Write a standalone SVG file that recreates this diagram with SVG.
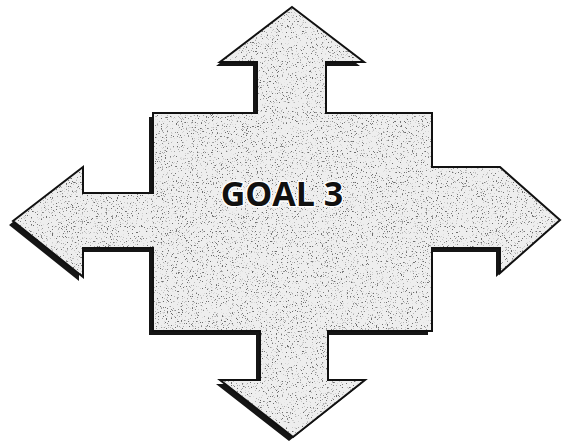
<svg xmlns="http://www.w3.org/2000/svg" width="563" height="442" viewBox="0 0 563 442">
  <style>
    .shadow { fill: #151515; }
    .body { fill: #eeeeee; }
    .edge { fill: none; stroke: #111; stroke-width: 2; stroke-linejoin: miter; }
    .label { font-family: "Open Sans", "Liberation Sans", sans-serif; font-weight: 700; font-size: 34px; fill: #111; text-anchor: middle; stroke: #fff; stroke-width: 3; paint-order: stroke; }
  </style>
  <defs>
    <polygon id="cross" points="292,7 364,62 326,62 326,113 432,113 432,167 500,167 560,220 500,273 500,248 432,248 432,331 328,331 328,380 365,380 293,437 220,380 260,380 260,331 153,331 153,248 83,248 83,277 13,221 83,167 83,193 153,193 153,113 257,113 257,62 220,62"/>
    <clipPath id="clip"><use href="#cross"/></clipPath>
    <filter id="speckle" x="0" y="0" width="100%" height="100%">
      <feTurbulence type="fractalNoise" baseFrequency="0.8" numOctaves="2" seed="7" result="n"/>
      <feColorMatrix in="n" type="matrix" values="0 0 0 0 0.15  0 0 0 0 0.15  0 0 0 0 0.15  9 0 0 0 -5.6"/>
    </filter>
  </defs>
  <g id="goal3">
    <use href="#cross" class="shadow" transform="translate(-4,4)"/>
    <use href="#cross" class="body"/>
    <rect x="0" y="0" width="563" height="442" fill="#fff" filter="url(#speckle)" clip-path="url(#clip)"/>
    <use href="#cross" class="edge"/>
    <text class="label" x="282" y="206">GOAL 3</text>
  </g>
</svg>
